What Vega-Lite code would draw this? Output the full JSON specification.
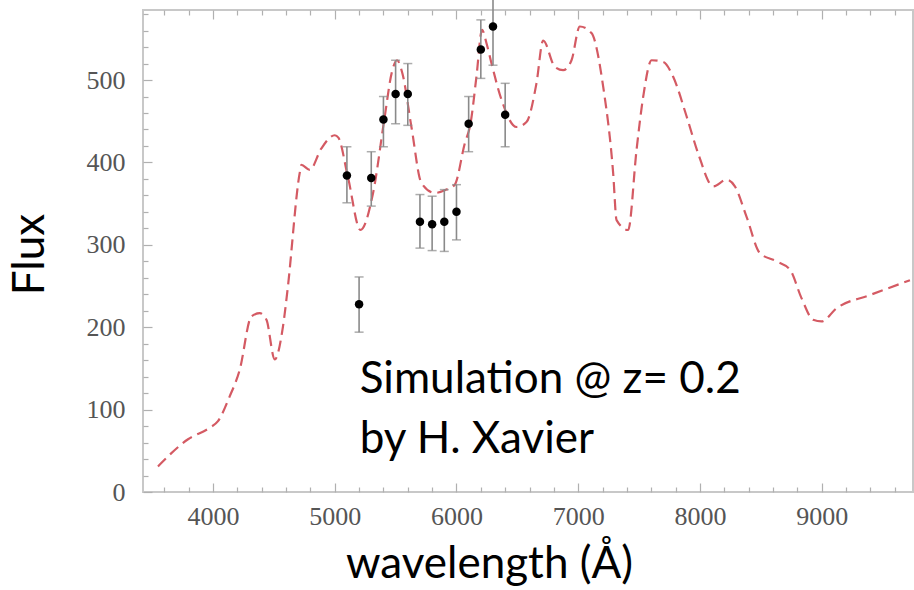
{
  "$schema": "https://vega.github.io/schema/vega-lite/v6.json",
  "width": 770,
  "height": 482,
  "autosize": "none",
  "padding": {"left": 143, "top": 10, "right": 1, "bottom": 98},
  "background": "white",
  "datasets": {
    "model": [
      {"wavelength": 3548, "flux": 31}, {"wavelength": 3795, "flux": 64}, {"wavelength": 3973, "flux": 78},
      {"wavelength": 4041, "flux": 86}, {"wavelength": 4137, "flux": 116}, {"wavelength": 4219, "flux": 148},
      {"wavelength": 4315, "flux": 213}, {"wavelength": 4384, "flux": 217}, {"wavelength": 4439, "flux": 209},
      {"wavelength": 4507, "flux": 161}, {"wavelength": 4575, "flux": 201}, {"wavelength": 4612, "flux": 245},
      {"wavelength": 4712, "flux": 387}, {"wavelength": 4726, "flux": 397}, {"wavelength": 4795, "flux": 391},
      {"wavelength": 4890, "flux": 417}, {"wavelength": 5000, "flux": 433}, {"wavelength": 5030, "flux": 430},
      {"wavelength": 5110, "flux": 381}, {"wavelength": 5211, "flux": 318}, {"wavelength": 5315, "flux": 363},
      {"wavelength": 5408, "flux": 453}, {"wavelength": 5470, "flux": 510}, {"wavelength": 5512, "flux": 524},
      {"wavelength": 5556, "flux": 508}, {"wavelength": 5630, "flux": 443}, {"wavelength": 5712, "flux": 375},
      {"wavelength": 5822, "flux": 363}, {"wavelength": 5918, "flux": 367}, {"wavelength": 5986, "flux": 373},
      {"wavelength": 6068, "flux": 423}, {"wavelength": 6115, "flux": 447}, {"wavelength": 6164, "flux": 504},
      {"wavelength": 6210, "flux": 561}, {"wavelength": 6246, "flux": 545}, {"wavelength": 6288, "flux": 520},
      {"wavelength": 6370, "flux": 476}, {"wavelength": 6493, "flux": 443}, {"wavelength": 6575, "flux": 449},
      {"wavelength": 6657, "flux": 496}, {"wavelength": 6712, "flux": 548}, {"wavelength": 6808, "flux": 516},
      {"wavelength": 6876, "flux": 512}, {"wavelength": 6945, "flux": 524}, {"wavelength": 7013, "flux": 565},
      {"wavelength": 7109, "flux": 557}, {"wavelength": 7205, "flux": 492}, {"wavelength": 7287, "flux": 387},
      {"wavelength": 7315, "flux": 330}, {"wavelength": 7410, "flux": 318}, {"wavelength": 7479, "flux": 415},
      {"wavelength": 7534, "flux": 480}, {"wavelength": 7603, "flux": 524}, {"wavelength": 7698, "flux": 522},
      {"wavelength": 7780, "flux": 504}, {"wavelength": 7890, "flux": 456}, {"wavelength": 7985, "flux": 411},
      {"wavelength": 8109, "flux": 371}, {"wavelength": 8219, "flux": 379}, {"wavelength": 8287, "flux": 371},
      {"wavelength": 8383, "flux": 334}, {"wavelength": 8492, "flux": 290}, {"wavelength": 8629, "flux": 280},
      {"wavelength": 8739, "flux": 270}, {"wavelength": 8835, "flux": 235}, {"wavelength": 8930, "flux": 209},
      {"wavelength": 8999, "flux": 207}, {"wavelength": 9122, "flux": 223}, {"wavelength": 9396, "flux": 239},
      {"wavelength": 9725, "flux": 257}
    ],
    "obs": [
      {"wavelength": 5100, "flux": 384, "lo": 351, "hi": 419},
      {"wavelength": 5200, "flux": 228, "lo": 194, "hi": 261},
      {"wavelength": 5300, "flux": 381, "lo": 347, "hi": 413},
      {"wavelength": 5400, "flux": 452, "lo": 419, "hi": 480},
      {"wavelength": 5500, "flux": 483, "lo": 447, "hi": 524},
      {"wavelength": 5600, "flux": 483, "lo": 445, "hi": 520},
      {"wavelength": 5700, "flux": 328, "lo": 296, "hi": 361},
      {"wavelength": 5800, "flux": 325, "lo": 293, "hi": 359},
      {"wavelength": 5900, "flux": 328, "lo": 292, "hi": 367},
      {"wavelength": 6000, "flux": 340, "lo": 306, "hi": 373},
      {"wavelength": 6100, "flux": 447, "lo": 413, "hi": 480},
      {"wavelength": 6200, "flux": 537, "lo": 502, "hi": 573},
      {"wavelength": 6300, "flux": 565, "lo": 518, "hi": 600},
      {"wavelength": 6400, "flux": 458, "lo": 419, "hi": 496}
    ],
    "note": [
      {"text": ["Simulation @ z= 0.2", "by H. Xavier"]}
    ]
  },
  "layer": [
    {
      "data": {"name": "model"},
      "mark": {"type": "line", "color": "#d45a63", "strokeWidth": 2.2, "strokeDash": [11, 6], "interpolate": "monotone"},
      "encoding": {
        "x": {
          "field": "wavelength", "type": "quantitative",
          "scale": {"domain": [3425, 9750], "nice": false, "zero": false},
          "axis": {
            "orient": "bottom",
            "values": [3600, 3800, 4000, 4200, 4400, 4600, 4800, 5000, 5200, 5400, 5600, 5800, 6000, 6200, 6400, 6600, 6800, 7000, 7200, 7400, 7600, 7800, 8000, 8200, 8400, 8600, 8800, 9000, 9200, 9400, 9600],
            "format": "d",
            "labelExpr": "datum.value % 1000 === 0 ? datum.label : ''",
            "tickSize": {"condition": {"test": "datum.value % 1000 === 0", "value": -9}, "value": -5},
            "labelPadding": 20,
            "title": "wavelength (Å)",
            "titleX": 346, "titleY": 85, "titleBaseline": "alphabetic", "titleAnchor": "middle", "titleAlign": "center"
          }
        },
        "y": {
          "field": "flux", "type": "quantitative",
          "scale": {"domain": [0, 585], "nice": false},
          "axis": {
            "orient": "left",
            "values": [0, 20, 40, 60, 80, 100, 120, 140, 160, 180, 200, 220, 240, 260, 280, 300, 320, 340, 360, 380, 400, 420, 440, 460, 480, 500, 520, 540, 560, 580],
            "format": "d",
            "labelExpr": "datum.value % 100 === 0 ? datum.label : ''",
            "tickSize": {"condition": {"test": "datum.value % 100 === 0", "value": -9}, "value": -5},
            "labelPadding": 27,
            "title": "Flux",
            "titleX": -113, "titleY": 244, "titleAngle": -90, "titleBaseline": "middle", "titleAlign": "center"
          }
        }
      }
    },
    {
      "data": {"name": "obs"},
      "mark": {"type": "rule", "color": "#8a8a8a", "strokeWidth": 1.6, "clip": false},
      "encoding": {
        "x": {"field": "wavelength", "type": "quantitative",
          "axis": {
            "orient": "top",
            "values": [3600, 3800, 4000, 4200, 4400, 4600, 4800, 5000, 5200, 5400, 5600, 5800, 6000, 6200, 6400, 6600, 6800, 7000, 7200, 7400, 7600, 7800, 8000, 8200, 8400, 8600, 8800, 9000, 9200, 9400, 9600],
            "labels": false, "title": null,
            "tickSize": {"condition": {"test": "datum.value % 1000 === 0", "value": -9}, "value": -5}
          }},
        "y": {"field": "lo", "type": "quantitative", "axis": null},
        "y2": {"field": "hi"}
      }
    },
    {
      "data": {"name": "obs"},
      "mark": {"type": "tick", "orient": "horizontal", "color": "#8a8a8a", "thickness": 1.5, "size": 9},
      "encoding": {
        "x": {"field": "wavelength", "type": "quantitative", "axis": null},
        "y": {"field": "lo", "type": "quantitative", "axis": null}
      }
    },
    {
      "data": {"name": "obs"},
      "mark": {"type": "tick", "orient": "horizontal", "color": "#8a8a8a", "thickness": 1.5, "size": 9, "clip": false},
      "encoding": {
        "x": {"field": "wavelength", "type": "quantitative", "axis": null},
        "y": {"field": "hi", "type": "quantitative", "axis": null}
      }
    },
    {
      "data": {"name": "obs"},
      "mark": {"type": "point", "filled": true, "color": "#000000", "opacity": 1, "size": 72},
      "encoding": {
        "x": {"field": "wavelength", "type": "quantitative", "axis": null},
        "y": {"field": "flux", "type": "quantitative", "axis": null}
      }
    },
    {
      "data": {"name": "note"},
      "mark": {"type": "text", "align": "left", "baseline": "alphabetic", "font": "Lato", "fontSize": 44, "lineHeight": 60, "color": "#000000"},
      "encoding": {
        "x": {"datum": 5205, "type": "quantitative", "axis": null},
        "y": {"datum": 120.6, "type": "quantitative", "axis": null},
        "text": {"field": "text"}
      }
    }
  ],
  "resolve": {"axis": {"x": "independent", "y": "independent"}},
  "config": {
    "view": {"stroke": "#c8c8c8", "strokeWidth": 2},
    "axis": {
      "domain": false,
      "grid": false,
      "tickColor": "#b0b0b0",
      "tickWidth": 1.2,
      "labelFont": "Liberation Serif",
      "labelFontSize": 26,
      "labelColor": "#555555",
      "labelOverlap": false,
      "titleFont": "Lato",
      "titleFontSize": 44,
      "titleFontWeight": "normal",
      "titleColor": "#000000"
    }
  }
}
